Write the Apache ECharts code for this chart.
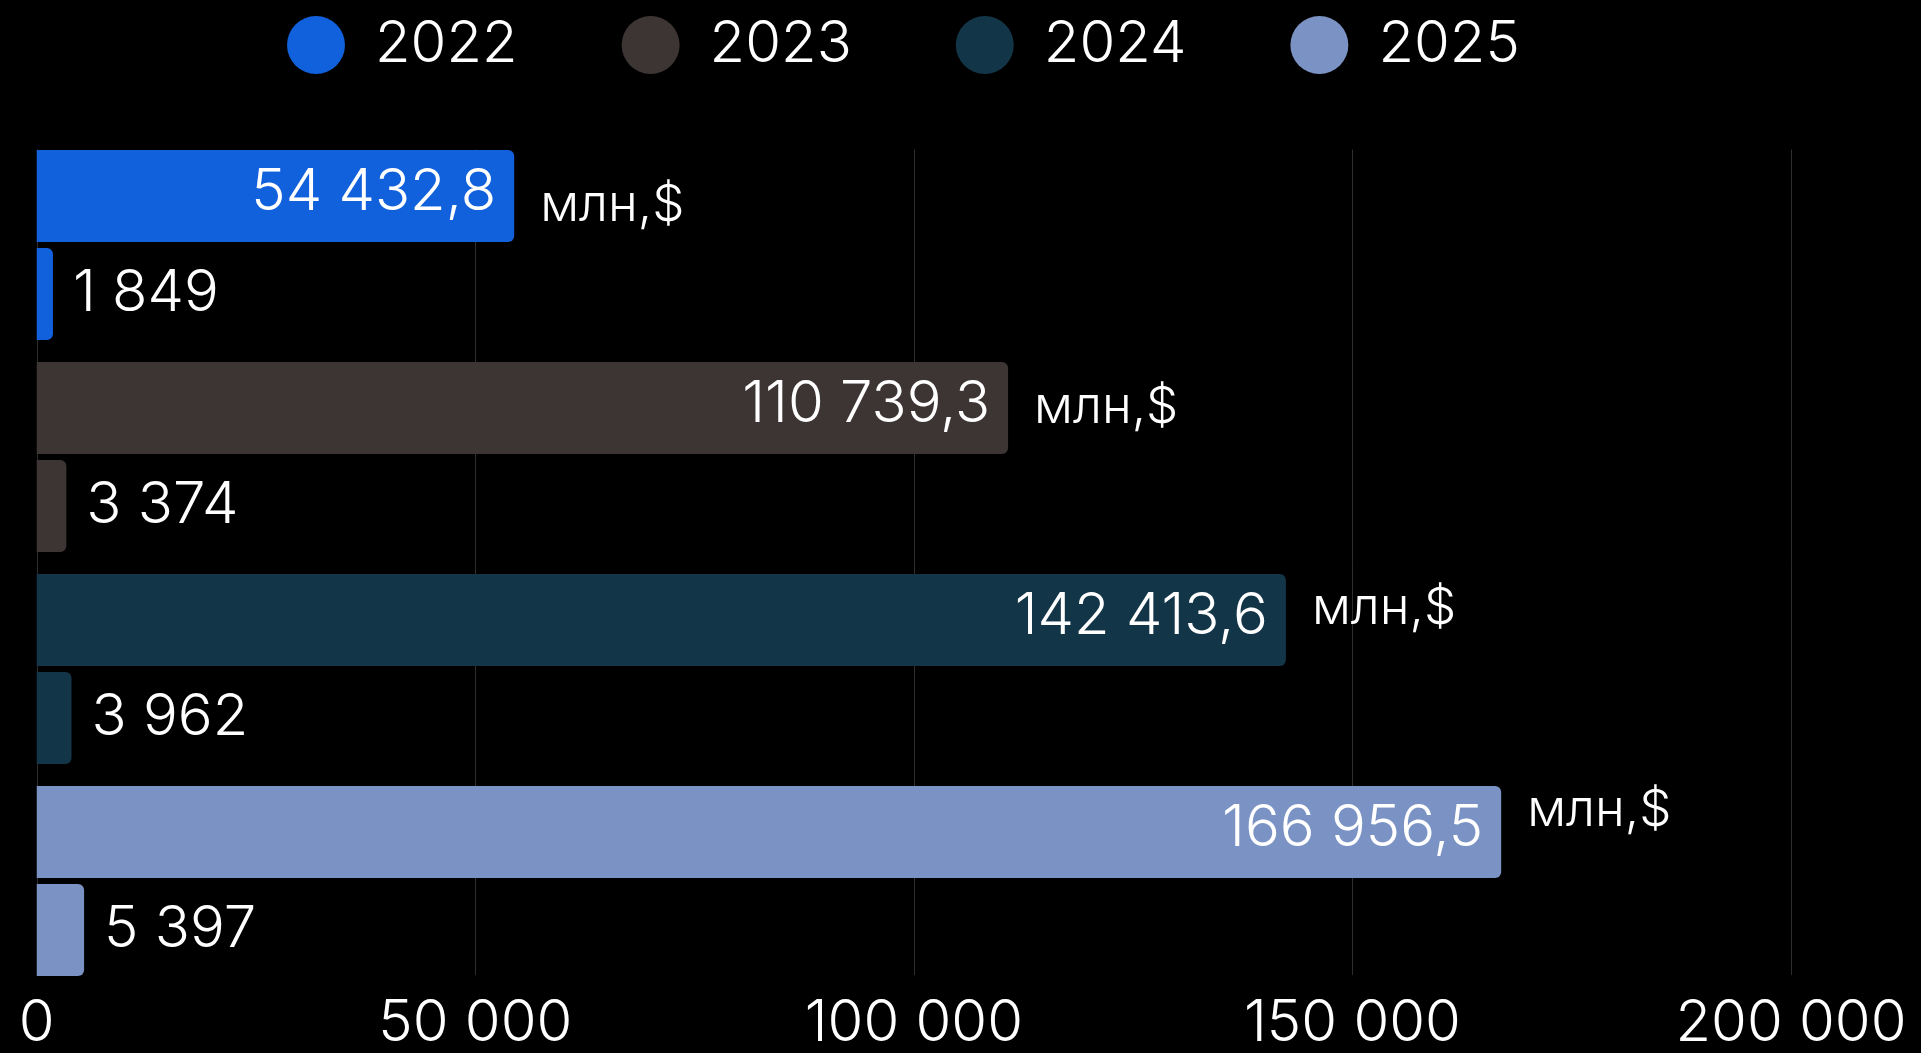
<!DOCTYPE html>
<html><head><meta charset="utf-8">
<script src="https://cdn.jsdelivr.net/npm/echarts@6/dist/echarts.min.js"></script>
<style>html,body{margin:0;padding:0;background:#000;}#c{width:1921px;height:1053px;}</style>
</head><body><div id="c"></div>
<script>
const years = ['2022', '2023', '2024', '2025'];
const bigValues = [54432.8, 110739.3, 142413.6, 166956.5];
const smallValues = [1849, 3374, 3962, 5397];
const unitText = 'млн,$';
const xMin = 0, xMax = 200000, xStep = 50000;
const colors = ['#1160DC', '#3D3534', '#133548', '#7B93C4'];

function fmt(v, dec) {
  const s = Number(v).toFixed(dec);
  const parts = s.split('.');
  const g = parts[0].replace(/\B(?=(\d{3})+(?!\d))/g, ' ');
  return parts[1] ? g + ',' + parts[1] : g;
}
const FONT = 'Inter, "Noto Sans", sans-serif';
const FW = 300;
const FS = 58;
const L = 36.75, R = 130;

const series = [];
years.forEach((y, k) => {
  series.push({
    type: 'bar', name: y, xAxisIndex: 1, yAxisIndex: 1, stack: 'big',
    barWidth: 92, barGap: '6.5%',
    data: years.map((_, i) => i === k ? bigValues[k] : '-'),
    itemStyle: { color: colors[k], borderRadius: [0, 6, 6, 0] },
    label: { show: true, position: 'insideRight', distance: 18, color: '#fff',
      fontSize: FS, fontWeight: FW, fontFamily: FONT, offset: [0, -3], formatter: p => fmt(p.value, 1) }
  });
  series.push({
    type: 'bar', name: y, xAxisIndex: 1, yAxisIndex: 1, stack: 'small',
    barWidth: 92, barGap: '6.5%',
    data: years.map((_, i) => i === k ? smallValues[k] : '-'),
    itemStyle: { color: colors[k], borderRadius: [0, 6, 6, 0] },
    label: { show: true, position: 'right', distance: 20, color: '#fff',
      fontSize: FS, fontWeight: FW, fontFamily: FONT, formatter: p => fmt(p.value, 0) }
  });
});
series.push({
  type: 'bar', name: 'unit', xAxisIndex: 2, yAxisIndex: 2, silent: true,
  data: bigValues, barWidth: 2,
  itemStyle: { color: 'rgba(0,0,0,0)' },
  label: { show: true, position: 'right', distance: 26, color: '#fff',
    fontSize: 51, fontWeight: FW, fontFamily: FONT, formatter: unitText }
});

const chart = echarts.init(document.getElementById('c'));
chart.setOption({
  backgroundColor: '#000',
  animation: false,
  legend: {
    data: years, left: 282, top: 11, icon: 'circle',
    itemWidth: 58, itemHeight: 58, itemGap: 104,
    textStyle: { color: '#fff', fontSize: FS, fontWeight: FW, fontFamily: FONT, padding: [0, 0, 0, 25], width: 142 }
  },
  grid: [
    { left: L, right: R, top: 149.5, height: 826.5 },
    { left: L, right: R, top: 139, height: 848 },
    { left: L, right: R, top: 105, height: 806 }
  ],
  xAxis: [
    { gridIndex: 0, type: 'value', min: xMin, max: xMax, interval: xStep,
      axisLine: { show: false }, axisTick: { show: false },
      axisLabel: { color: '#fff', fontSize: FS, fontWeight: FW, fontFamily: FONT, margin: 20, formatter: v => fmt(v, 0) },
      splitLine: { show: true, lineStyle: { color: '#2e2e2e', width: 1 } } },
    { gridIndex: 1, type: 'value', min: xMin, max: xMax, show: false, splitLine: { show: false } },
    { gridIndex: 2, type: 'value', min: xMin, max: xMax, show: false, splitLine: { show: false } }
  ],
  yAxis: [
    { gridIndex: 0, type: 'category', data: years, show: false },
    { gridIndex: 1, type: 'category', data: years, inverse: true, show: false },
    { gridIndex: 2, type: 'category', data: years, inverse: true, show: false }
  ],
  series: series
});
</script>
</body></html>
